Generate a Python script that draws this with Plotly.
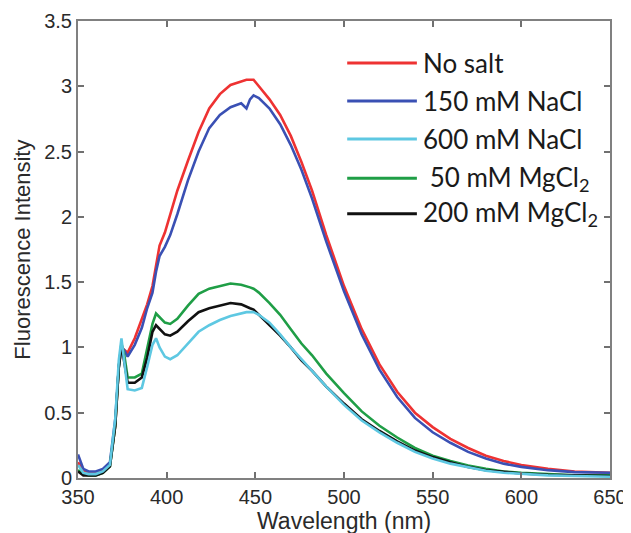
import plotly.graph_objects as go

wavelength = [350, 353, 356, 360, 364, 368, 371, 373, 374.5, 376, 378,
              382, 386, 389, 392, 394, 396, 399, 402, 406, 412,
              418, 424, 430, 436, 442, 445, 447, 449, 452, 458,
              464, 470, 476, 482, 490, 500, 510, 520, 530, 540,
              550, 560, 570, 580, 590, 600, 615, 630, 650]

no_salt = [0.12, 0.06, 0.04, 0.04, 0.06, 0.10, 0.40, 0.85, 1.00, 0.98, 0.96,
           1.07, 1.21, 1.33, 1.47, 1.62, 1.78, 1.88, 2.02, 2.20, 2.43,
           2.65, 2.83, 2.94, 3.01, 3.04, 3.05, 3.05, 3.05, 3.00, 2.90,
           2.78, 2.62, 2.42, 2.20, 1.86, 1.47, 1.14, 0.87, 0.66, 0.50,
           0.39, 0.30, 0.23, 0.17, 0.13, 0.10, 0.07, 0.05, 0.04]

nacl_150 = [0.18, 0.07, 0.05, 0.05, 0.07, 0.12, 0.45, 0.85, 1.00, 0.98, 0.93,
            1.02, 1.15, 1.30, 1.42, 1.58, 1.70, 1.77, 1.86, 2.02, 2.28,
            2.50, 2.68, 2.78, 2.84, 2.87, 2.83, 2.90, 2.93, 2.91, 2.83,
            2.71, 2.55, 2.36, 2.14, 1.81, 1.43, 1.10, 0.83, 0.62, 0.46,
            0.35, 0.27, 0.20, 0.15, 0.11, 0.085, 0.06, 0.045, 0.04]

nacl_600 = [0.10, 0.04, 0.03, 0.03, 0.05, 0.10, 0.45, 0.90, 1.07, 0.92, 0.68,
            0.67, 0.69, 0.85, 1.02, 1.07, 1.00, 0.93, 0.91, 0.94, 1.03,
            1.12, 1.17, 1.21, 1.24, 1.26, 1.27, 1.27, 1.27, 1.25, 1.19,
            1.10, 1.00, 0.91, 0.82, 0.70, 0.56, 0.44, 0.35, 0.27, 0.20,
            0.15, 0.11, 0.08, 0.055, 0.04, 0.03, 0.02, 0.015, 0.01]

mgcl2_50 = [0.06, 0.03, 0.02, 0.02, 0.04, 0.09, 0.40, 0.85, 1.03, 0.95, 0.77,
            0.77, 0.80, 0.98, 1.18, 1.26, 1.23, 1.19, 1.18, 1.22, 1.32,
            1.41, 1.45, 1.47, 1.49, 1.48, 1.47, 1.46, 1.45, 1.42, 1.34,
            1.25, 1.14, 1.03, 0.94, 0.80, 0.65, 0.51, 0.40, 0.31, 0.23,
            0.17, 0.13, 0.095, 0.07, 0.05, 0.04, 0.03, 0.02, 0.02]

mgcl2_200 = [0.05, 0.02, 0.02, 0.02, 0.04, 0.09, 0.40, 0.85, 1.02, 0.90, 0.73,
             0.73, 0.77, 0.92, 1.12, 1.17, 1.14, 1.10, 1.09, 1.12, 1.20,
             1.27, 1.30, 1.32, 1.34, 1.33, 1.31, 1.30, 1.29, 1.25, 1.17,
             1.09, 1.00, 0.90, 0.82, 0.70, 0.57, 0.45, 0.36, 0.28, 0.21,
             0.16, 0.12, 0.085, 0.06, 0.045, 0.035, 0.025, 0.02, 0.015]

series_names = ["No salt", "150 mM NaCl", "600 mM NaCl",
                " 50 mM MgCl<sub>2</sub>", "200 mM MgCl<sub>2</sub>"]
series_values = [no_salt, nacl_150, nacl_600, mgcl2_50, mgcl2_200]
series_colors = ["#ee3232", "#3a50b4", "#5ec8e2", "#1f9e46", "#111111"]

x_ticks = [350, 400, 450, 500, 550, 600, 650]
y_ticks = [0, 0.5, 1, 1.5, 2, 2.5, 3, 3.5]
y_tick_labels = ["0", "0.5", "1", "1.5", "2", "2.5", "3", "3.5"]
x_title = "Wavelength (nm)"
y_title = "Fluorescence Intensity"

fig = go.Figure()
draw_order = [0, 1, 3, 4, 2]
for i in draw_order:
    fig.add_trace(go.Scatter(
        x=wavelength, y=series_values[i], mode="lines",
        name=series_names[i], showlegend=False,
        line=dict(color=series_colors[i], width=2.6),
    ))

# custom legend (long line samples, no frame)
leg_y = [0.908, 0.825, 0.742, 0.656, 0.578]
for i in range(5):
    fig.add_shape(type="line", xref="paper", yref="paper",
                  x0=0.506, x1=0.637, y0=leg_y[i], y1=leg_y[i],
                  line=dict(color=series_colors[i], width=3))
    fig.add_annotation(xref="paper", yref="paper", x=0.645, y=leg_y[i],
                       xanchor="left", yanchor="middle", showarrow=False,
                       text=series_names[i],
                       font=dict(family="Lato", size=26, color="#1a1a1a"))

# axis titles
fig.add_annotation(xref="paper", yref="paper", x=0.5, y=-0.094,
                   xanchor="center", yanchor="middle", showarrow=False,
                   text=x_title,
                   font=dict(family="Liberation Sans", size=23, color="#2a2a2a"))
fig.add_annotation(xref="paper", yref="paper", x=-0.105, y=0.5,
                   xanchor="center", yanchor="middle", showarrow=False,
                   textangle=-90, text=y_title,
                   font=dict(family="Liberation Sans", size=22, color="#2a2a2a"))

axis_common = dict(
    showgrid=False, zeroline=False, showline=True, linecolor="#808080",
    linewidth=2, mirror="ticks", ticks="inside", ticklen=6, tickwidth=1.5,
    tickcolor="#707070", automargin=False,
    tickfont=dict(family="Liberation Sans", size=20, color="#2a2a2a"),
)

fig.update_xaxes(range=[350, 650], tickvals=x_ticks, **axis_common)
fig.update_yaxes(range=[0, 3.5], tickvals=y_ticks, ticktext=y_tick_labels,
                 **axis_common)

fig.update_layout(
    width=623, height=525,
    margin=dict(l=70, r=21, t=13, b=55),
    paper_bgcolor="white", plot_bgcolor="white",
)

fig.write_html("out.html")
